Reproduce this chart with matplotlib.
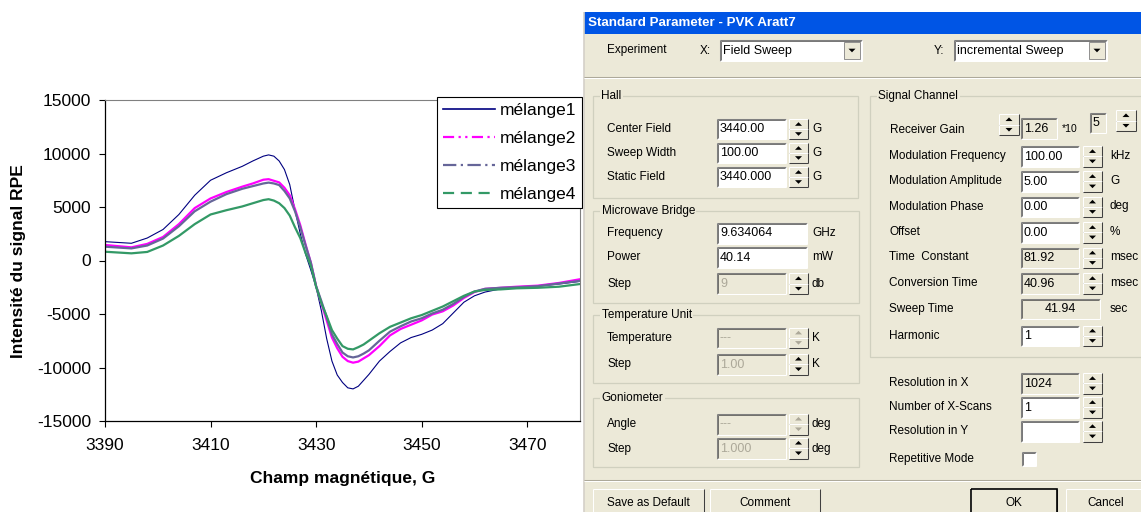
import matplotlib
matplotlib.use('Agg')
import matplotlib.pyplot as plt
from matplotlib.patches import Rectangle, Polygon
from matplotlib.lines import Line2D

plt.rcParams['font.family'] = ['Liberation Sans', 'DejaVu Sans']
plt.rcParams['axes.unicode_minus'] = False

# EPR spectra (field in G, intensity in a.u.)
field = [3390, 3395, 3398, 3401, 3404, 3407, 3410, 3413, 3416, 3418,
         3420, 3421, 3422, 3423, 3424, 3425, 3426, 3427, 3428, 3429,
         3430, 3431, 3432, 3433, 3434, 3435, 3436, 3437, 3438, 3439,
         3440, 3442, 3444, 3446, 3448, 3450, 3452, 3454, 3456, 3458,
         3460, 3462, 3465, 3468, 3472, 3476, 3480]
melange1 = [1760, 1610, 2100, 2900, 4300, 6100, 7500, 8200, 8800, 9300,
            9750, 9870, 9750, 9300, 8500, 7100, 4700, 2500, 600, -900,
            -2500, -4700, -7300, -9400, -10700, -11400, -11900, -12000, -11750, -11200,
            -10650, -9400, -8500, -7700, -7200, -6900, -6500, -5900, -4900, -3900,
            -3300, -2950, -2650, -2500, -2400, -2200, -1950]
melange2 = [1450, 1230, 1550, 2200, 3400, 4900, 5800, 6400, 6900, 7200,
            7550, 7600, 7450, 7300, 6800, 6100, 4800, 3300, 1500, -200,
            -2400, -4000, -5600, -7200, -8200, -9000, -9400, -9550, -9450, -9150,
            -8850, -8000, -7000, -6400, -6000, -5600, -5050, -4750, -4200, -3500,
            -2950, -2650, -2550, -2450, -2350, -2100, -1750]
melange3 = [1290, 1130, 1400, 2050, 3200, 4600, 5500, 6200, 6700, 6950,
            7200, 7280, 7200, 7050, 6500, 5800, 4600, 3100, 1400, -200,
            -2400, -3800, -5300, -6900, -7800, -8600, -8950, -9060, -8950, -8700,
            -8400, -7500, -6650, -6150, -5700, -5400, -4950, -4600, -4050, -3400,
            -2900, -2650, -2550, -2500, -2400, -2150, -1900]
melange4 = [820, 670, 800, 1400, 2300, 3400, 4300, 4700, 5050, 5350,
            5650, 5730, 5600, 5350, 4900, 4200, 3100, 2100, 700, -500,
            -2450, -4000, -5200, -6500, -7300, -8000, -8250, -8310, -8100, -7850,
            -7500, -6800, -6200, -5800, -5400, -5100, -4700, -4300, -3800, -3300,
            -2900, -2750, -2700, -2600, -2550, -2450, -2200]
series_names = ['mélange1', 'mélange2', 'mélange3', 'mélange4']
x_ticks = [3390, 3410, 3430, 3450, 3470]
y_ticks = [-15000, -10000, -5000, 0, 5000, 10000, 15000]

colors = ['#000080', '#ff00ff', '#666699', '#339966']
widths = [0.8, 1.6, 1.6, 1.6]
dashes = ['-', (0, (5, 2, 1, 2, 1, 2)), (0, (6, 2, 1, 2)), (0, (5, 3))]

W, H = 1141, 512
fig = plt.figure(figsize=(W / 100, H / 100), dpi=100)
fig.patch.set_facecolor('white')

# ---- chart ----
ax = fig.add_axes([105 / W, 1 - 421 / H, 475 / W, 321 / H])
for ys, c, lw in zip([melange1, melange2, melange3, melange4], colors, widths):
    ax.plot(field, ys, color=c, lw=lw)
ax.set_xlim(3390, 3480)
ax.set_ylim(-15000, 15000)
ax.set_xticks(x_ticks)
ax.set_yticks(y_ticks)
ax.tick_params(direction='out', length=4, width=0.8, labelsize=12.5, colors='black')
ax.tick_params(axis='x', pad=8.5)
ax.tick_params(axis='y', pad=6)
for s in ['top', 'right']:
    ax.spines[s].set_color('#808080')
    ax.spines[s].set_linewidth(0.8)
for s in ['left', 'bottom']:
    ax.spines[s].set_linewidth(0.9)

handles = [Line2D([], [], color=c, lw=1.6 if i else 1.2, linestyle=d)
           for i, (c, d) in enumerate(zip(colors, dashes))]
leg = ax.legend(handles, series_names, loc='upper right',
                bbox_to_anchor=(582 / W, 1 - 97 / H), bbox_transform=fig.transFigure,
                fontsize=12.5, frameon=True, fancybox=False, framealpha=1,
                edgecolor='black', handlelength=3.0, handletextpad=0.25,
                labelspacing=0.74, borderpad=0.35, borderaxespad=0)
leg.get_frame().set_linewidth(0.8)

# ---- overlay in pixel coordinates ----
ov = fig.add_axes([0, 0, 1, 1])
ov.set_xlim(0, W)
ov.set_ylim(H, 0)
ov.axis('off')
ov.set_zorder(5)

ov.text(19, 261, 'Intensité du signal RPE', rotation=90, ha='center', va='center',
        fontsize=12.5, fontweight='bold')
ov.text(343, 479, 'Champ magnétique, G', ha='center', va='center',
        fontsize=12.5, fontweight='bold')

BG = '#ECE9D8'
FS = 8.5


def rect(x0, y0, x1, y1, fc='none', ec='none', lw=0.8, z=1):
    ov.add_patch(Rectangle((x0, y0), x1 - x0, y1 - y0, fc=fc, ec=ec, lw=lw, zorder=z))


def line(x0, y0, x1, y1, c, lw=0.75, z=3):
    ov.plot([x0, x1], [y0, y1], color=c, lw=lw, zorder=z, solid_capstyle='butt')


def label(x, y, s, **kw):
    kw.setdefault('fontsize', FS)
    ov.text(x, y, s, va='center', zorder=4, **kw)


def textbox(x0, y0, x1, y1, s='', bg='white', fg='black', ha='left'):
    rect(x0, y0, x1, y1, fc=bg, z=2)
    line(x0, y0, x1, y0, '#808080')
    line(x0, y0, x0, y1, '#808080')
    line(x0 + 1, y0 + 1, x1 - 1, y0 + 1, '#404040', 0.5)
    line(x0 + 1, y0 + 1, x0 + 1, y1 - 1, '#404040', 0.5)
    line(x0, y1, x1, y1, 'white')
    line(x1, y0, x1, y1, 'white')
    if s:
        if ha == 'center':
            label((x0 + x1) / 2, (y0 + y1) / 2 + 0.5, s, color=fg, ha='center', fontsize=FS + 0.5)
        else:
            label(x0 + 3, (y0 + y1) / 2 + 0.5, s, color=fg, fontsize=FS + 0.5)


def tri(cx, cy, up, c='black'):
    d = -1 if up else 1
    ov.add_patch(Polygon([(cx - 3.5, cy - 1.8 * d), (cx + 3.5, cy - 1.8 * d), (cx, cy + 1.8 * d)],
                         closed=True, fc=c, ec='none', zorder=4))


def spin(x0, y0, x1, y1, enabled=True):
    c = 'black' if enabled else '#ACA899'
    ym = (y0 + y1) / 2
    for a, b in [(y0, ym), (ym, y1)]:
        rect(x0, a, x1, b, fc=BG, z=2)
        line(x0, a, x1, a, 'white')
        line(x0, a, x0, b, 'white')
        line(x0, b, x1, b, '#404040')
        line(x1, a, x1, b, '#404040')
    tri((x0 + x1) / 2, (y0 + ym) / 2, True, c)
    tri((x0 + x1) / 2, (ym + y1) / 2, False, c)


def group(x0, y0, x1, y1, title):
    rect(x0, y0, x1, y1, ec='#D0D0BF', lw=0.9, z=2)
    label(x0 + 9, y0, title, bbox=dict(fc=BG, ec='none', pad=1))


def combo(x0, y0, x1, y1, s):
    textbox(x0, y0, x1, y1, s)
    bx0, bx1 = x1 - 18, x1 - 2
    rect(bx0, y0 + 2, bx1, y1 - 2, fc=BG, ec='#808080', lw=0.6, z=3)
    tri((bx0 + bx1) / 2, (y0 + y1) / 2, False)


def button(x0, y0, x1, y1, s, default=False):
    rect(x0, y0, x1, y1, fc=BG, z=2)
    line(x0, y0, x1, y0, 'white')
    line(x0, y0, x0, y1, 'white')
    line(x1, y0, x1, y1, '#404040')
    if default:
        rect(x0, y0, x1, y1, ec='black', lw=1.2, z=3)
    label((x0 + x1) / 2, (y0 + y1) / 2 + 1, s, ha='center')


# dialog window
rect(584, 12, W + 2, H + 2, fc=BG, z=1)
line(584, 12, 584, H, '#D4D0C8', 1.2)
rect(584, 12, W + 2, 34, fc='#0055E5', z=2)
ov.text(588, 23.5, 'Standard Parameter - PVK Aratt7', color='white', fontsize=9.6,
        fontweight='bold', va='center', zorder=4)

label(607, 50.5, 'Experiment')
label(700, 50.5, 'X:')
combo(720, 40, 862, 61, 'Field Sweep')
label(934, 50.5, 'Y:')
combo(954, 40, 1107, 61, 'incremental Sweep')
line(584, 76.5, W, 76.5, '#ACA899')
line(584, 77.5, W, 77.5, 'white')

# Hall
group(592.5, 96, 858, 198, 'Hall')
hall_rows = [('Center Field', '3440.00', 129), ('Sweep Width', '100.00', 153),
             ('Static Field', '3440.000', 177)]
for name, val, y in hall_rows:
    label(607, y, name)
    textbox(717, y - 10, 786, y + 10, val)
    spin(789, y - 10, 808, y + 10)
    label(812, y, 'G')

# Microwave bridge
group(592.5, 211, 859, 303, 'Microwave Bridge')
label(607, 233, 'Frequency')
textbox(717, 222.5, 807, 243.5, '9.634064')
label(812, 233, 'GHz')
label(607, 257.5, 'Power')
textbox(717, 247, 807, 268, '40.14')
label(812, 257.5, 'mW')
label(607, 284, 'Step')
textbox(717, 273, 786, 294, '9', bg=BG, fg='#ACA899')
spin(789, 273, 808, 294)
label(812, 284, 'db')

# Temperature
group(592.5, 315, 859, 383, 'Temperature Unit')
label(607, 338, 'Temperature')
textbox(717, 327.5, 786, 348, '---', bg=BG, fg='#ACA899')
spin(789, 327.5, 808, 348, enabled=False)
label(812, 338, 'K')
label(607, 364, 'Step')
textbox(717, 353.5, 786, 374.5, '1.00', bg=BG, fg='#ACA899')
spin(789, 353.5, 808, 374.5)
label(812, 364, 'K')

# Goniometer
group(592.5, 398, 859, 467, 'Goniometer')
label(607, 424, 'Angle')
textbox(717, 413.5, 786, 434.5, '---', bg=BG, fg='#ACA899')
spin(789, 413.5, 808, 434.5, enabled=False)
label(812, 424, 'deg')
label(607, 449, 'Step')
textbox(717, 437.5, 786, 458.5, '1.000', bg=BG, fg='#ACA899')
spin(789, 437.5, 808, 458.5)
label(812, 449, 'deg')

# Signal channel
group(869.5, 96, W + 5, 357, 'Signal Channel')
label(890, 130, 'Receiver Gain')
spin(999, 114, 1019, 135)
textbox(1021, 118, 1057, 138.5, '1.26', bg=BG)
label(1062, 129, '*10', fontsize=7.5)
textbox(1090, 113, 1106, 133, '5', bg=BG)
spin(1116, 110, 1136, 131)

sig_rows = [('Modulation Frequency', '100.00', 'kHz', 156, 'white'),
            ('Modulation Amplitude', '5.00', 'G', 181, 'white'),
            ('Modulation Phase', '0.00', 'deg', 206.5, 'white'),
            ('Offset', '0.00', '%', 232, 'white'),
            ('Time  Constant', '81.92', 'msec', 257.5, BG),
            ('Conversion Time', '40.96', 'msec', 283, BG)]
for name, val, unit, y, bg in sig_rows:
    label(889, y, name)
    textbox(1021, y - 10, 1079, y + 10.5, val, bg=bg)
    spin(1083, y - 10, 1102, y + 10.5)
    label(1110, y, unit)

label(889, 309, 'Sweep Time')
textbox(1021, 298.5, 1100, 319, '41.94', bg=BG, ha='center')
label(1110, 309, 'sec')
label(889, 336, 'Harmonic')
textbox(1021, 325.5, 1079, 346, '1')
spin(1083, 325.5, 1102, 346)

res_rows = [('Resolution in X', '1024', 383, BG), ('Number of X-Scans', '1', 407, 'white'),
            ('Resolution in Y', '', 431, 'white')]
for name, val, y, bg in res_rows:
    label(889, y, name)
    textbox(1021, y - 10, 1079, y + 10.5, val, bg=bg)
    spin(1083, y - 10, 1102, y + 10.5)
label(889, 459, 'Repetitive Mode')
textbox(1022, 451.5, 1036, 466)

# bottom buttons
line(584, 480, W, 480, '#ACA899')
line(584, 481, W, 481, 'white')
button(592.5, 489, 703.5, H + 4, 'Save as Default')
button(709.5, 489, 820, H + 4, 'Comment')
button(971, 489, 1057, H + 4, 'OK', default=True)
button(1065.5, 489, W + 5, H + 4, 'Cancel')

fig.savefig('out.png', dpi=100, facecolor='white')
